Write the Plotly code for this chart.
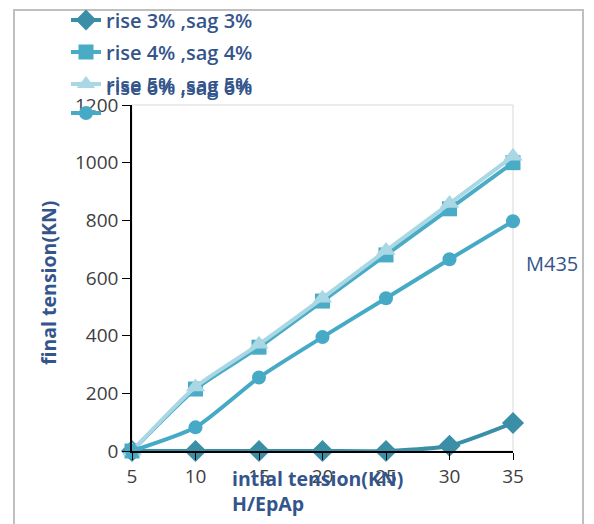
import plotly.graph_objects as go

# Initial tension steps (x) and resulting final tension (KN) per rise/sag case
initial_tension = [5, 10, 15, 20, 25, 30, 35]
rise3_sag3 = [0, 0, 0, 0, 0, 18, 97]
rise4_sag4 = [0, 215, 360, 520, 680, 840, 1000]
rise5_sag5 = [0, 222, 370, 530, 695, 858, 1022]
rise6_sag6 = [0, 82, 255, 395, 530, 665, 797]

series_names = ["rise 3% ,sag 3%", "rise 4% ,sag 4%", "rise 5% ,sag 5%", "rise 6% ,sag 6%"]
x_ticks = [5, 10, 15, 20, 25, 30, 35]
y_ticks = [0, 200, 400, 600, 800, 1000, 1200]

W, H = 594, 524
ML, MR, MT, MB = 132, 81, 105, 73
PW, PH = W - ML - MR, H - MT - MB


def px_to_paper(px, py):
    return (px - ML) / PW, (H - MB - py) / PH


TEXT_BLUE = "#34558b"
FONT = "Open Sans"

styles = [
    dict(color="#3a8fa7", symbol="diamond", size=17),
    dict(color="#4aabc6", symbol="square", size=15),
    dict(color="#a9d8e4", symbol="triangle-up", size=17),
    dict(color="#46aac7", symbol="circle", size=14),
]
values = [rise3_sag3, rise4_sag4, rise5_sag5, rise6_sag6]
legends = ["legend", "legend2", "legend3", "legend4"]

fig = go.Figure()
for name, vals, st, lg in zip(series_names, values, styles, legends):
    label = name if lg != "legend4" else name + "<br> "
    fig.add_trace(go.Scatter(
        x=initial_tension, y=vals, name=label, mode="lines+markers",
        line=dict(color=st["color"], width=4, shape="spline", smoothing=0.6),
        marker=dict(color=st["color"], symbol=st["symbol"], size=st["size"]),
        cliponaxis=False, legend=lg,
    ))

legend_font = dict(family=FONT, size=20, color=TEXT_BLUE, weight=600)


def legend_at(center_y, valign="middle"):
    return dict(
        xref="container", yref="container", x=66 / W, y=1 - center_y / H,
        xanchor="left", yanchor="middle", bgcolor="rgba(0,0,0,0)",
        font=legend_font, valign=valign, itemwidth=30,
    )


fig.update_layout(
    width=W, height=H,
    margin=dict(l=ML, r=MR, t=MT, b=MB, autoexpand=False),
    paper_bgcolor="white", plot_bgcolor="white",
    showlegend=True,
    legend=legend_at(20),
    legend2=legend_at(52),
    legend3=legend_at(84),
    legend4=legend_at(100, valign="bottom"),
    xaxis=dict(
        range=[5, 35], tickvals=x_ticks, ticks="outside", ticklen=7,
        tickcolor="black", showline=True, linecolor="black", linewidth=1.5,
        showgrid=False, zeroline=False,
        tickfont=dict(family=FONT, size=19, color="#404040"),
    ),
    yaxis=dict(
        range=[0, 1200], tickvals=y_ticks, ticks="outside", ticklen=8,
        tickcolor="black", showline=True, linecolor="black", linewidth=1.5,
        showgrid=False, zeroline=False,
        tickfont=dict(family=FONT, size=19, color="#404040"),
    ),
)

# light plot-area border (top and right edges) and the outer chart frame
fig.add_shape(type="rect", xref="paper", yref="paper", x0=0, y0=0, x1=1, y1=1,
              line=dict(color="#d9d9d9", width=1), layer="below")
fx0, fy0 = px_to_paper(14, 545)
fx1, fy1 = px_to_paper(583, 10)
fig.add_shape(type="rect", xref="paper", yref="paper", x0=fx0, y0=fy0, x1=fx1, y1=fy1,
              line=dict(color="#bfbfbf", width=2), layer="below")

title_font = dict(family=FONT, size=19.5, color=TEXT_BLUE, weight="bold")

ytx, yty = px_to_paper(48, 283)
fig.add_annotation(xref="paper", yref="paper", x=ytx, y=yty, text="final tension(KN)",
                   textangle=-90, showarrow=False, font=title_font,
                   xanchor="center", yanchor="middle")

xtx, xty = px_to_paper(230, 491)
fig.add_annotation(xref="paper", yref="paper", x=xtx, y=xty,
                   text="intial tension(KN)<br>H/EpAp", align="left",
                   showarrow=False, font=title_font, xanchor="left", yanchor="middle")

mx, my = px_to_paper(524, 263)
fig.add_annotation(xref="paper", yref="paper", x=mx, y=my, text="M435",
                   showarrow=False, font=dict(family=FONT, size=20, color=TEXT_BLUE),
                   xanchor="left", yanchor="middle")

fig.write_html("out.html")
